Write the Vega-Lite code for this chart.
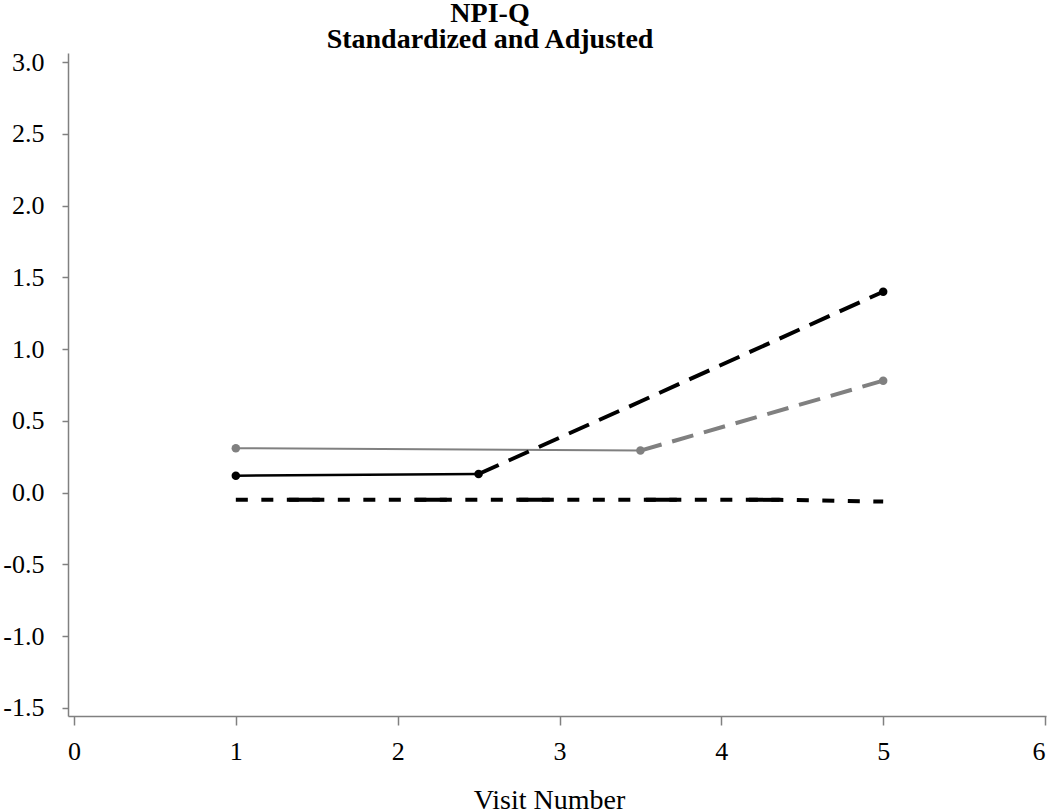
{
  "$schema": "https://vega.github.io/schema/vega-lite/v6.json",
  "width": 978,
  "height": 663,
  "autosize": {"type": "none"},
  "padding": {"left": 68, "top": 53, "right": 4, "bottom": 95},
  "background": "white",
  "config": {
    "view": {"stroke": null},
    "font": "Liberation Serif",
    "axis": {"grid": false, "domainColor": "#808080", "tickColor": "#808080", "labelColor": "#000000", "labelFont": "Liberation Serif", "titleFont": "Liberation Serif", "titleColor": "#000000", "domainWidth": 1.5, "tickWidth": 1.5}
  },
  "title": {
    "text": ["NPI-Q", "Standardized and Adjusted"],
    "font": "Liberation Serif",
    "fontSize": 28,
    "fontWeight": "bold",
    "lineHeight": 26,
    "anchor": "middle",
    "dx": -67,
    "offset": -5,
    "color": "#000000"
  },
  "datasets": {
    "lines": [
      {"series": "gray_obs", "visit": 1, "value": 0.31},
      {"series": "gray_obs", "visit": 3.5, "value": 0.293},
      {"series": "gray_pred", "visit": 3.5, "value": 0.293},
      {"series": "gray_pred", "visit": 5, "value": 0.78},
      {"series": "black_obs", "visit": 1, "value": 0.118},
      {"series": "black_obs", "visit": 2.5, "value": 0.13},
      {"series": "black_pred", "visit": 2.5, "value": 0.13},
      {"series": "black_pred", "visit": 3.5, "value": 0.635},
      {"series": "black_pred", "visit": 5, "value": 1.4},
      {"series": "ref_short", "visit": 1, "value": -0.05},
      {"series": "ref_short", "visit": 4.36, "value": -0.05},
      {"series": "ref_short", "visit": 5, "value": -0.062},
      {"series": "ref_long", "visit": 1, "value": -0.05},
      {"series": "ref_long", "visit": 4.36, "value": -0.05}
    ],
    "points": [
      {"group": "gray", "visit": 1, "value": 0.31},
      {"group": "gray", "visit": 3.5, "value": 0.293},
      {"group": "gray", "visit": 5, "value": 0.78},
      {"group": "black", "visit": 1, "value": 0.118},
      {"group": "black", "visit": 2.5, "value": 0.13},
      {"group": "black", "visit": 5, "value": 1.4}
    ]
  },
  "encoding": {
    "x": {
      "field": "visit", "type": "quantitative",
      "scale": {"domain": [-0.037, 6.006], "nice": false, "zero": false},
      "axis": {"values": [0, 1, 2, 3, 4, 5, 6], "format": "d", "title": "Visit Number", "titleFontSize": 28, "titleFontWeight": "normal", "titleX": 481, "titleY": 92, "titleBaseline": "alphabetic", "labelFontSize": 26, "tickSize": 9, "labelPadding": 13, "offset": 0}
    },
    "y": {
      "field": "value", "type": "quantitative",
      "scale": {"domain": [-1.556, 3.063], "nice": false, "zero": false},
      "axis": {"values": [-1.5, -1, -0.5, 0, 0.5, 1, 1.5, 2, 2.5, 3], "format": ".1f", "labelExpr": "replace(datum.label, '\u2212', '-')", "title": null, "labelFontSize": 26, "tickSize": 6, "labelPadding": 18}
    }
  },
  "layer": [
    {
      "data": {"name": "lines"},
      "transform": [{"filter": "datum.series === 'ref_long'"}],
      "mark": {"type": "line", "color": "#000000", "strokeWidth": 4, "strokeDash": [31, 96, 31, 72], "strokeDashOffset": 177, "strokeCap": "butt"}
    },
    {
      "data": {"name": "lines"},
      "transform": [{"filter": "datum.series === 'ref_short'"}],
      "mark": {"type": "line", "color": "#000000", "strokeWidth": 4, "strokeDash": [12, 13.5], "strokeCap": "butt"}
    },
    {
      "data": {"name": "lines"},
      "transform": [{"filter": "datum.series === 'gray_obs'"}],
      "mark": {"type": "line", "color": "#808080", "strokeWidth": 2}
    },
    {
      "data": {"name": "lines"},
      "transform": [{"filter": "datum.series === 'gray_pred'"}],
      "mark": {"type": "line", "color": "#808080", "strokeWidth": 4, "strokeDash": [22, 11], "strokeCap": "butt"}
    },
    {
      "data": {"name": "lines"},
      "transform": [{"filter": "datum.series === 'black_obs'"}],
      "mark": {"type": "line", "color": "#000000", "strokeWidth": 2.5}
    },
    {
      "data": {"name": "lines"},
      "transform": [{"filter": "datum.series === 'black_pred'"}],
      "mark": {"type": "line", "color": "#000000", "strokeWidth": 4, "strokeDash": [22, 11], "strokeCap": "butt"}
    },
    {
      "data": {"name": "points"},
      "mark": {"type": "circle", "size": 72, "opacity": 1},
      "encoding": {
        "color": {"field": "group", "type": "nominal", "scale": {"domain": ["gray", "black"], "range": ["#808080", "#000000"]}, "legend": null}
      }
    }
  ]
}
